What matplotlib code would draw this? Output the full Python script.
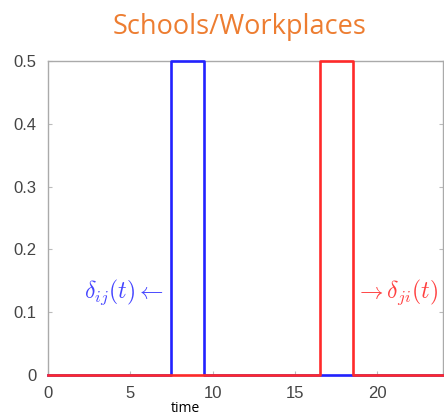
import matplotlib
matplotlib.use("Agg")
import matplotlib.pyplot as plt

plt.rcParams["mathtext.fontset"] = "cm"
plt.rcParams["font.family"] = ["Liberation Sans", "DejaVu Sans"]

# contact-rate pulses (time in hours)
t_ij = [0, 7.5, 7.5, 9.5, 9.5, 24]
d_ij = [0, 0, 0.5, 0.5, 0, 0]
t_ji = [0, 16.5, 16.5, 18.5, 18.5, 24]
d_ji = [0, 0, 0.5, 0.5, 0, 0]

x_ticks = [0, 5, 10, 15, 20]
y_ticks = [0, 0.1, 0.2, 0.3, 0.4, 0.5]

fig = plt.figure(figsize=(4.44, 4.15), dpi=100)
ax = fig.add_axes([0.108, 0.0964, 0.89, 0.757])

ax.plot(t_ij, d_ij, color="#2222ff", lw=1.9, solid_joinstyle="round",
        clip_on=False, zorder=5)
ax.plot(t_ji, d_ji, color="#ff2a2a", lw=1.9, solid_joinstyle="round",
        clip_on=False, zorder=6)

ax.set_xlim(0, 24)
ax.set_ylim(0, 0.5)
ax.set_xticks(x_ticks)
ax.set_yticks(y_ticks)
ax.set_yticklabels(["0", "0.1", "0.2", "0.3", "0.4", "0.5"])
ax.tick_params(direction="in", length=3, colors="#bbbbbb", labelcolor="#444444",
               labelsize=12, pad=8, top=False, right=True)
for s in ax.spines.values():
    s.set_color("#aaaaaa")
    s.set_linewidth(1.0)

ax.text(7.0, 0.132, r"$\delta_{ij}(t)\leftarrow$", color="#4444ff", fontsize=17,
        ha="right", va="center")
ax.text(18.65, 0.132, r"$\rightarrow\delta_{ji}(t)$", color="#ff4040", fontsize=17,
        ha="left", va="center")

fig.text(0.54, 0.935, "Schools/Workplaces", color="#ed7d31", fontsize=19.5,
         family="Open Sans", ha="center", va="center")
fig.text(0.417, 0.016, "time", color="black", fontsize=10, family="Open Sans",
         ha="center", va="center")

fig.savefig("out.png", dpi=100)
